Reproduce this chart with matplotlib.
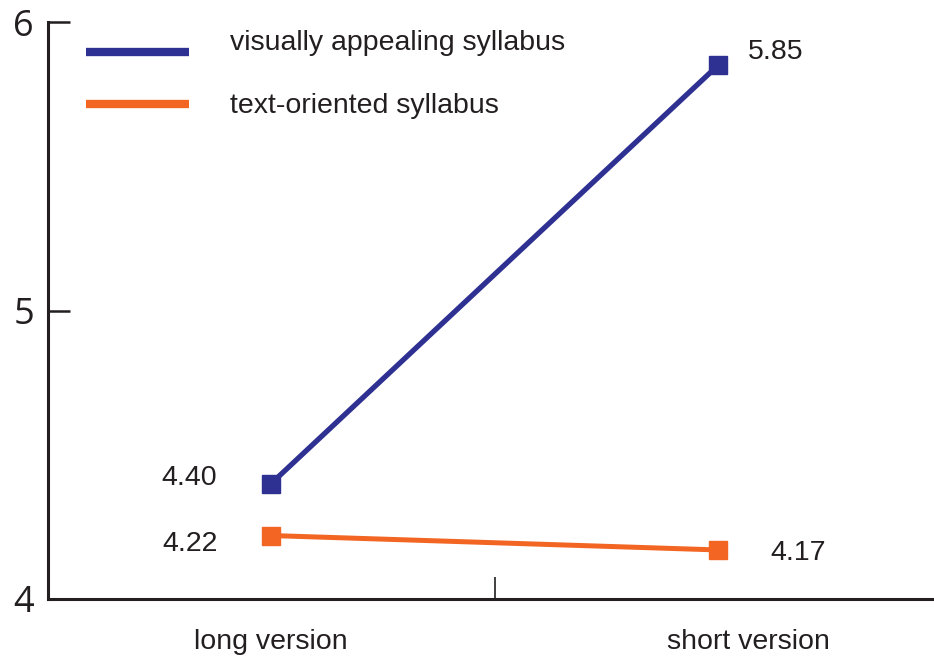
import matplotlib
matplotlib.use("Agg")
import matplotlib.pyplot as plt

categories = ["long version", "short version"]
series_names = ["visually appealing syllabus", "text-oriented syllabus"]
visual_values = [4.40, 5.85]
text_values = [4.22, 4.17]
value_labels_visual = ["4.40", "5.85"]
value_labels_text = ["4.22", "4.17"]
y_ticks = [4, 5, 6]

BLUE = "#2E3192"
ORANGE = "#F26522"
DARK = "#231F20"

fig = plt.figure(figsize=(9.34, 6.61), dpi=100)
ax = fig.add_axes([48 / 934, 62 / 661, 1 - 48 / 934, (599 - 22) / 661])

x = list(range(len(categories)))
ax.plot(x, visual_values, color=BLUE, lw=3.8, marker="s", ms=12.5, zorder=3,
        solid_capstyle="butt")
ax.plot(x, text_values, color=ORANGE, lw=3.6, marker="s", ms=12.5, zorder=3,
        solid_capstyle="butt")

ax.set_xlim(-0.499, 1.483)
ax.set_ylim(4, 6)

for s in ["top", "right"]:
    ax.spines[s].set_visible(False)
for s in ["left", "bottom"]:
    ax.spines[s].set_color(DARK)
    ax.spines[s].set_linewidth(2.2)

ax.set_yticks(y_ticks)
ax.set_yticklabels([str(t) for t in y_ticks], fontsize=26, family=["Open Sans", "DejaVu Sans"], color=DARK)
ax.tick_params(axis="y", direction="in", length=16, width=1.8, color=DARK, pad=10)
ax.set_xticks([0.5])
ax.set_xticklabels([""])
ax.tick_params(axis="x", direction="in", length=16, width=1.2, color=DARK)

# category labels
cat_offsets = [0.0, 0.067]
for i, c in enumerate(categories):
    ax.text(i + cat_offsets[i], -0.052, c, transform=ax.get_xaxis_transform(),
            ha="center", va="top", fontsize=20.5,
            family=["Liberation Sans Narrow", "Liberation Sans", "DejaVu Sans"], color=DARK)

# value labels
lab_font = dict(fontsize=20.5, family=["Liberation Sans", "DejaVu Sans"], color=DARK)
ax.text(-0.12, visual_values[0] + 0.02, value_labels_visual[0], ha="right", va="center", **lab_font)
ax.text(-0.12, text_values[0] - 0.03, value_labels_text[0], ha="right", va="center", **lab_font)
ax.text(1.067, visual_values[1] + 0.045, value_labels_visual[1], ha="left", va="center", **lab_font)
ax.text(1.117, text_values[1] - 0.01, value_labels_text[1], ha="left", va="center", **lab_font)

# manual legend
tr = ax.transAxes
def ax_x(px):
    return (px - 48) / (934 - 48)
def ax_y(py):
    return (599 - py) / (599 - 22)
ax.plot([ax_x(86), ax_x(189)], [ax_y(52), ax_y(52)], transform=tr, color=BLUE, lw=6, solid_capstyle="butt")
ax.plot([ax_x(86), ax_x(189)], [ax_y(104), ax_y(104)], transform=tr, color=ORANGE, lw=6, solid_capstyle="butt")
ax.text(ax_x(230), ax_y(43), series_names[0], transform=tr, ha="left", va="center", **lab_font)
ax.text(ax_x(230), ax_y(106), series_names[1], transform=tr, ha="left", va="center", **lab_font)

fig.savefig("out.png", dpi=100)
